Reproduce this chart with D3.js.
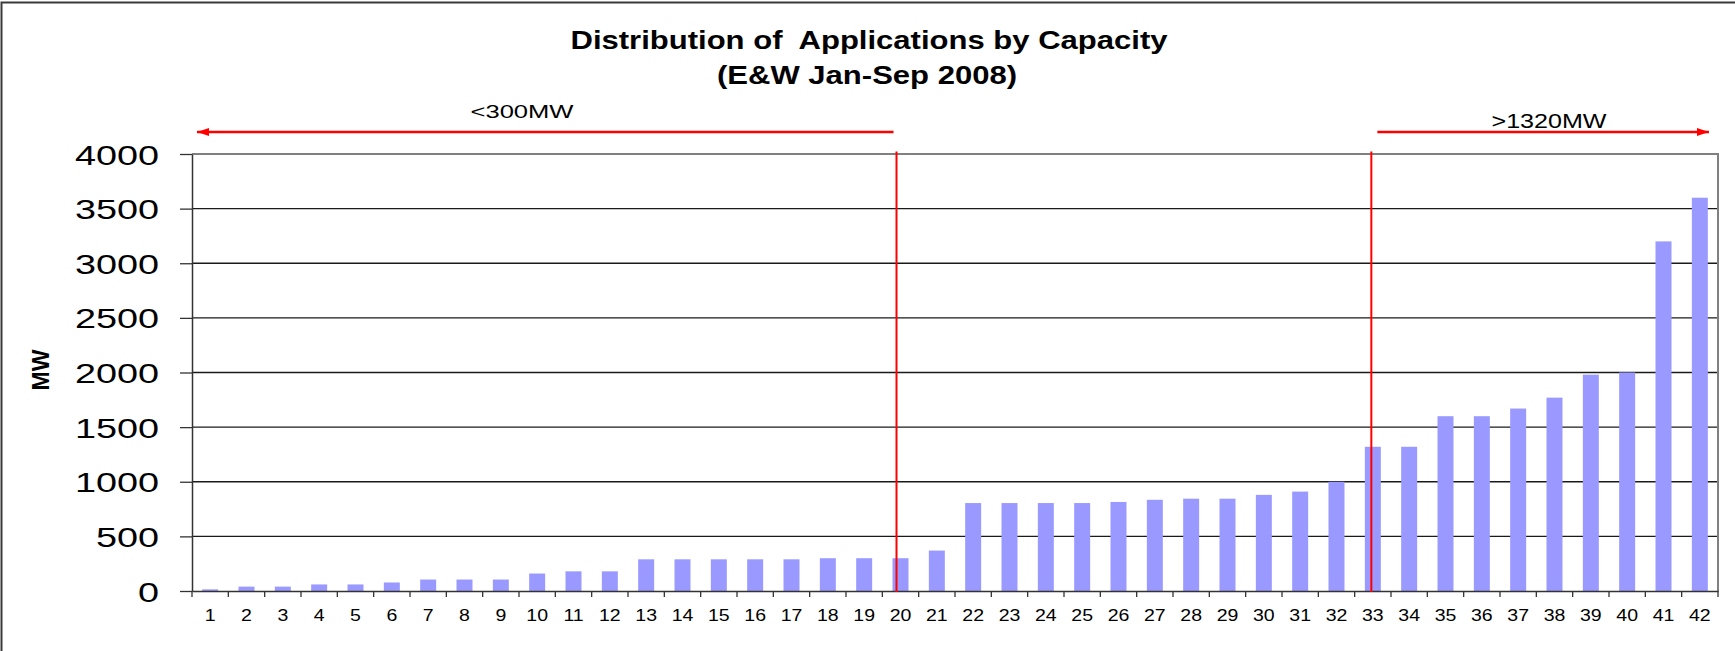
<!DOCTYPE html>
<html>
<head>
<meta charset="utf-8">
<script src="https://cdn.jsdelivr.net/npm/d3@7"></script>
<style>
  html, body { margin: 0; padding: 0; background: #fff; overflow: hidden; }
  svg { display: block; font-family: "Liberation Sans", Arial, sans-serif; }
</style>
</head>
<body>
<svg id="chart" width="1735" height="651"></svg>
<script>
// ---- data ----
const categories = ["1","2","3","4","5","6","7","8","9","10","11","12","13","14","15","16","17","18","19","20","21","22","23","24","25","26","27","28","29","30","31","32","33","34","35","36","37","38","39","40","41","42"];
const values = [15,40,40,60,60,78,105,105,105,160,180,180,290,290,290,290,290,300,300,300,370,805,805,805,805,815,835,845,845,880,910,1000,1320,1320,1600,1600,1670,1770,1980,2000,3200,3600];
const yTicks = [0,500,1000,1500,2000,2500,3000,3500,4000];
const titleLines = ["Distribution of  Applications by Capacity", "(E&W Jan-Sep 2008)"];
const yLabel = "MW";
const markers = ["20", "33"];            // categories where the red split lines sit
const rangeLabels = ["<300MW", ">1320MW"];

// ---- layout ----
const W = 1735, H = 651;
const plot = { left: 192, right: 1718, top: 154, bottom: 591 };
const svg = d3.select("#chart");

const x = d3.scaleBand().domain(categories).range([plot.left, plot.right]).padding(0);
const y = d3.scaleLinear().domain([0, 4000]).range([plot.bottom, plot.top]);
const barW = x.bandwidth() * 0.44;

// outer frame (only top/left visible)
svg.append("rect").attr("x", 1.5).attr("y", 2.5).attr("width", W + 10).attr("height", H + 10)
  .attr("fill", "none").attr("stroke", "#3a3a3a").attr("stroke-width", 2);

// gridlines
svg.append("g").selectAll("line").data(yTicks.filter(d => d > 0 && d < 4000)).join("line")
  .attr("x1", plot.left).attr("x2", plot.right)
  .attr("y1", d => y(d)).attr("y2", d => y(d))
  .attr("stroke", "#1a1a1a").attr("stroke-width", 1.3);

// plot-area border (top & right gray)
svg.append("path")
  .attr("d", `M${plot.left},${y(4000)}H${plot.right}V${plot.bottom}`)
  .attr("fill", "none").attr("stroke", "#808080").attr("stroke-width", 2);

// bars
svg.append("g").selectAll("rect").data(categories.map((c, i) => ({ c, v: values[i] }))).join("rect")
  .attr("x", d => x(d.c) + x.bandwidth() / 2 - barW / 2)
  .attr("width", barW)
  .attr("y", d => y(d.v))
  .attr("height", d => y(0) - y(d.v))
  .attr("fill", "#9999FF");

// y axis
const yAxis = svg.append("g").attr("transform", `translate(${plot.left},0)`)
  .call(d3.axisLeft(y).tickValues(yTicks).tickFormat(d3.format("d")).tickSize(12).tickSizeOuter(0));
yAxis.select(".domain").attr("stroke", "#333").attr("stroke-width", 1.5);
yAxis.selectAll(".tick line").attr("stroke", "#333").attr("stroke-width", 1.3);
yAxis.selectAll(".tick text")
  .attr("x", -33 / 1.35).attr("dy", "0.36em")
  .attr("transform", "scale(1.35,1)")
  .attr("font-size", 28).attr("fill", "#000")
  .attr("font-family", "'Liberation Sans', Arial, sans-serif");

// x axis
const xAxis = svg.append("g").attr("transform", `translate(0,${plot.bottom})`)
  .call(d3.axisBottom(x).tickSize(0).tickSizeOuter(0));
xAxis.select(".domain").attr("stroke", "#333").attr("stroke-width", 1.5);
xAxis.selectAll(".tick text")
  .attr("y", 30).attr("dy", 0)
  .attr("transform", "scale(1.22,1)")
  .attr("font-size", 16).attr("fill", "#000")
  .attr("font-family", "'Liberation Sans', Arial, sans-serif");
// boundary tick marks
const bounds = categories.map(c => x(c)).concat([x(categories[categories.length - 1]) + x.bandwidth()]);
xAxis.append("g").selectAll("line").data(bounds).join("line")
  .attr("x1", d => d).attr("x2", d => d).attr("y1", 0).attr("y2", 6)
  .attr("stroke", "#333").attr("stroke-width", 1.3);

// y label
svg.append("text")
  .attr("transform", `translate(49,370) rotate(-90)`)
  .attr("text-anchor", "middle")
  .attr("font-size", 23).attr("font-weight", "bold").attr("fill", "#000")
  .text(yLabel);

// title
svg.append("text").attr("x", 869).attr("y", 49).attr("text-anchor", "middle")
  .attr("font-size", 26).attr("font-weight", "bold").style("white-space", "pre")
  .attr("textLength", 597).attr("lengthAdjust", "spacingAndGlyphs")
  .text(titleLines[0]);
svg.append("text").attr("x", 867).attr("y", 84).attr("text-anchor", "middle")
  .attr("font-size", 26).attr("font-weight", "bold")
  .attr("textLength", 300).attr("lengthAdjust", "spacingAndGlyphs")
  .text(titleLines[1]);

// red split lines
const m1 = x(markers[0]) + x.bandwidth() / 2 - 4;
const m2 = x(markers[1]) + x.bandwidth() / 2 - 1.5;
svg.append("g").selectAll("line").data([m1, m2]).join("line")
  .attr("x1", d => d).attr("x2", d => d)
  .attr("y1", plot.top - 2.5).attr("y2", plot.bottom + 1)
  .attr("stroke", "#FF0000").attr("stroke-width", 2);

// arrows
const defs = svg.append("defs");
defs.append("marker").attr("id", "ah").attr("viewBox", "0 0 12 8")
  .attr("refX", 12).attr("refY", 4).attr("markerWidth", 12).attr("markerHeight", 8)
  .attr("markerUnits", "userSpaceOnUse").attr("orient", "auto")
  .append("path").attr("d", "M0,0L12,4L0,8Z").attr("fill", "#FF0000");
const arrowY = 132;
svg.append("line").attr("x1", m1 - 3).attr("x2", plot.left + 5)
  .attr("y1", arrowY).attr("y2", arrowY)
  .attr("stroke", "#FF0000").attr("stroke-width", 2.5).attr("marker-end", "url(#ah)");
svg.append("line").attr("x1", m2 + 6).attr("x2", plot.right - 9)
  .attr("y1", arrowY).attr("y2", arrowY)
  .attr("stroke", "#FF0000").attr("stroke-width", 2.5).attr("marker-end", "url(#ah)");

// range labels
svg.append("text").attr("x", 522).attr("y", 118).attr("text-anchor", "middle")
  .attr("font-size", 19).attr("textLength", 103).attr("lengthAdjust", "spacingAndGlyphs")
  .text(rangeLabels[0]);
svg.append("text").attr("x", 1549).attr("y", 128).attr("text-anchor", "middle")
  .attr("font-size", 20).attr("textLength", 115).attr("lengthAdjust", "spacingAndGlyphs")
  .text(rangeLabels[1]);
</script>
</body>
</html>
